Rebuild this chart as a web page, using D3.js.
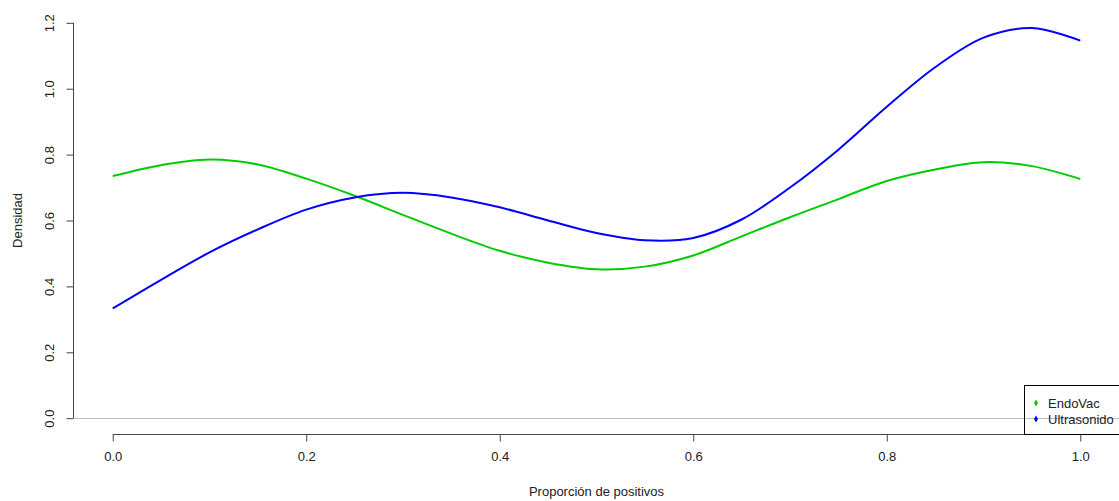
<!DOCTYPE html>
<html>
<head>
  <meta charset="utf-8">
  <title>Densidad - Proporción de positivos</title>
  <script src="https://d3js.org/d3.v7.min.js"></script>
  <style>
    body { margin: 0; background: #fff; }
    text { font-family: "Liberation Sans", Arial, sans-serif; fill: #222; }
  </style>
</head>
<body>
  <script>
    // Values (x step 0.05)
    let xValues = [0, 0.05, 0.1, 0.15, 0.2, 0.25, 0.3, 0.35, 0.4, 0.45, 0.5,
                   0.55, 0.6, 0.65, 0.7, 0.75, 0.8, 0.85, 0.9, 0.95, 1];
    let endoVac = [0.735, 0.768, 0.785, 0.770, 0.727, 0.675, 0.617, 0.56, 0.508, 0.472, 0.452,
                   0.46, 0.494, 0.552, 0.61, 0.665, 0.72, 0.755, 0.777, 0.765, 0.726];
    let ultrasonido = [0.333, 0.42, 0.503, 0.573, 0.633, 0.670, 0.684, 0.670, 0.640, 0.600, 0.562,
                       0.540, 0.547, 0.603, 0.700, 0.815, 0.945, 1.065, 1.155, 1.184, 1.146];
    let seriesNames = ["EndoVac", "Ultrasonido"];
    let seriesColors = ["#00cd00", "#0000ff"];
    let xTicks = [0, 0.2, 0.4, 0.6, 0.8, 1.0];
    let yTicks = [0, 0.2, 0.4, 0.6, 0.8, 1.0, 1.2];

    let width = 1119, height = 501;
    // plot region (R style, 4% extension on each side)
    let plotLeft = 74, plotRight = 1119, plotTop = 7, plotBottom = 434;

    let svg = d3.select("body").append("svg")
      .attr("width", width)
      .attr("height", height);

    let x = d3.scaleLinear().domain([-0.04, 1.04]).range([plotLeft, plotRight]);
    let y = d3.scaleLinear().domain([-0.048, 1.248]).range([plotBottom, plotTop]);

    // gray reference line at 0
    svg.append("line")
      .attr("x1", plotLeft).attr("x2", plotRight)
      .attr("y1", Math.round(y(0)) + 0.5).attr("y2", Math.round(y(0)) + 0.5)
      .attr("stroke", "#bebebe")
      .attr("stroke-width", 1);

    // x axis
    let xAxis = svg.append("g")
      .attr("transform", "translate(0," + (plotBottom + 0.5) + ")")
      .call(d3.axisBottom(x).tickValues(xTicks).tickFormat(d3.format(".1f")).tickSizeOuter(0).tickSize(7).tickPadding(10));
    xAxis.select(".domain").attr("d", "M" + x(0) + ",0H" + x(1)).attr("stroke", "#444");
    xAxis.selectAll(".tick line").attr("stroke", "#444");
    xAxis.selectAll("text").attr("font-size", 13).style("font-family", "Liberation Sans, Arial, sans-serif").attr("fill", "#222");

    // y axis
    let yAxis = svg.append("g")
      .attr("transform", "translate(" + (plotLeft - 0.5) + ",0)")
      .call(d3.axisLeft(y).tickValues(yTicks).tickFormat(d3.format(".1f")).tickSizeOuter(0).tickSize(7));
    yAxis.select(".domain").attr("d", "M0," + y(0) + "V" + y(1.2)).attr("stroke", "#444");
    yAxis.selectAll(".tick line").attr("stroke", "#444");
    yAxis.selectAll("text")
      .attr("font-size", 13)
      .style("font-family", "Liberation Sans, Arial, sans-serif")
      .attr("fill", "#222")
      .attr("x", 0).attr("dy", 0)
      .attr("text-anchor", "middle")
      .attr("transform", "translate(-20,0) rotate(-90)");

    // axis titles
    svg.append("text")
      .attr("x", (plotLeft + plotRight) / 2)
      .attr("y", 496)
      .attr("text-anchor", "middle")
      .attr("font-size", 13)
      .text("Proporción de positivos");

    svg.append("text")
      .attr("transform", "translate(22," + ((plotTop + plotBottom) / 2) + ") rotate(-90)")
      .attr("text-anchor", "middle")
      .attr("font-size", 13)
      .text("Densidad");

    // density curves
    let line = d3.line()
      .x((d) => x(d[0]))
      .y((d) => y(d[1]))
      .curve(d3.curveCatmullRom.alpha(0.5));

    [endoVac, ultrasonido].forEach(function(vals, i) {
      svg.append("path")
        .datum(xValues.map((v, j) => [v, vals[j]]))
        .attr("d", line)
        .attr("fill", "none")
        .attr("stroke", seriesColors[i])
        .attr("stroke-width", 2);
    });

    // legend (bottomright, no fill)
    let legend = svg.append("g");
    legend.append("rect")
      .attr("x", 1024.5).attr("y", 385.5)
      .attr("width", 110).attr("height", plotBottom - 385)
      .attr("fill", "none")
      .attr("stroke", "#000");

    let items = legend.selectAll(".item")
      .data(seriesNames)
      .enter().append("g")
      .attr("class", "item")
      .attr("transform", (d, i) => "translate(1036," + (403 + i * 16) + ")");

    items.append("path")
      .attr("d", d3.symbol(d3.symbolDiamond, 14))
      .attr("fill", (d, i) => seriesColors[i]);

    items.append("text")
      .attr("x", 12)
      .attr("dy", "0.35em")
      .attr("font-size", 13)
      .text((d) => d);
  </script>
</body>
</html>
